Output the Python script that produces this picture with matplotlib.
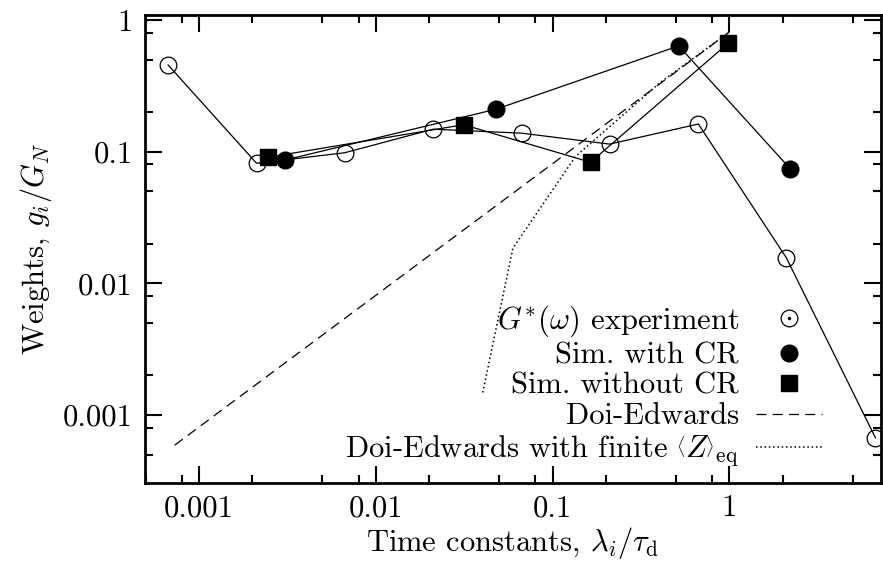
import matplotlib
matplotlib.use("Agg")
import matplotlib.pyplot as plt
from matplotlib.lines import Line2D
from matplotlib.ticker import FixedLocator, FixedFormatter, NullFormatter

plt.rcParams['font.family'] = 'serif'
plt.rcParams['font.serif'] = ['cmr10']
plt.rcParams['mathtext.fontset'] = 'cm'
plt.rcParams['axes.unicode_minus'] = False
plt.rcParams['font.size'] = 22

# relaxation spectrum: time constants and weights
exp_x = [0.00067, 0.00212, 0.00668, 0.0211, 0.0671, 0.21, 0.668, 2.1, 6.7]
exp_y = [0.455, 0.0816, 0.098, 0.148, 0.138, 0.114, 0.162, 0.0156, 0.00067]

cr_x = [0.00309, 0.048, 0.517, 2.21]
cr_y = [0.0865, 0.21, 0.635, 0.074]

nocr_x = [0.00246, 0.0314, 0.164, 0.984]
nocr_y = [0.0906, 0.16, 0.083, 0.665]

de_x = [0.00073, 1.0]
de_y = [0.00059, 0.81]

dez_x = [0.0403, 0.0597, 0.135, 0.403, 1.0]
dez_y = [0.00148, 0.0185, 0.092, 0.332, 0.81]

xticks = [0.001, 0.01, 0.1, 1]
xticklabels = ['0.001', '0.01', '0.1', '1']
yticks = [0.001, 0.01, 0.1, 1]
yticklabels = ['0.001', '0.01', '0.1', '1']

fig = plt.figure(figsize=(8.83, 5.64), dpi=100)
ax = fig.add_axes([145/883, 1 - 482.5/564, 736/883, 467.5/564])

ms = 12
ax.plot(de_x, de_y, color='black', lw=0.9, ls=(0, (8, 5)))
ax.plot(dez_x, dez_y, color='black', lw=1.1, ls=(0, (1, 1.8)))
ax.plot(exp_x, exp_y, color='black', lw=0.9, marker='o', ms=ms,
        mfc='none', mec='black', mew=0.9)
ax.plot(cr_x, cr_y, color='black', lw=0.9, marker='o', ms=ms,
        mfc='black', mec='black')
ax.plot(nocr_x, nocr_y, color='black', lw=0.9, marker='s', ms=ms,
        mfc='black', mec='black')

ax.set_xscale('log')
ax.set_yscale('log')
ax.set_xlim(0.000496, 7.2)
ax.set_ylim(0.000307, 1.09)

ax.xaxis.set_major_locator(FixedLocator(xticks))
ax.xaxis.set_major_formatter(FixedFormatter(xticklabels))
ax.yaxis.set_major_locator(FixedLocator(yticks))
ax.yaxis.set_major_formatter(FixedFormatter(yticklabels))
minor = [m * 10.0 ** k for k in range(-5, 2) for m in (2, 5, 8)]
ax.xaxis.set_minor_locator(FixedLocator(minor))
ax.yaxis.set_minor_locator(FixedLocator(minor))
ax.xaxis.set_minor_formatter(NullFormatter())
ax.yaxis.set_minor_formatter(NullFormatter())

ax.tick_params(which='both', direction='in', top=True, right=True, width=1.5)
ax.tick_params(which='major', length=12, pad=9)
ax.tick_params(which='minor', length=6)
for sp in ax.spines.values():
    sp.set_linewidth(2)

ax.set_xlabel(r'Time constants, $\lambda_i/\tau_{\rm d}$', labelpad=2)
ax.set_ylabel(r'Weights, $g_i/G_N$', labelpad=6)

h_exp = (Line2D([], [], ls='none', marker='o', ms=ms, mfc='none', mec='black', mew=0.9),
         Line2D([], [], ls='none', marker='o', ms=1.5, mfc='black', mec='black'))
h_cr = Line2D([], [], ls='none', marker='o', ms=ms, mfc='black', mec='black')
h_nocr = Line2D([], [], ls='none', marker='s', ms=ms, mfc='black', mec='black')
h_de = Line2D([], [], color='black', lw=0.9, ls=(0, (8, 5)))
h_dez = Line2D([], [], color='black', lw=1.1, ls=(0, (1, 1.8)))

ax.legend([h_exp, h_cr, h_nocr, h_de, h_dez],
          [r'$G^{*}(\omega)$ experiment', 'Sim. with CR', 'Sim. without CR',
           'Doi-Edwards',
           r'Doi-Edwards with finite $\left\langle Z\right\rangle_{\rm eq}$'],
          loc='lower right', bbox_to_anchor=(0.92, 0.03), frameon=False,
          markerfirst=False, handlelength=2.16, handletextpad=0.56,
          labelspacing=0.1, borderpad=0, borderaxespad=0)

fig.savefig('out.png', dpi=100)
